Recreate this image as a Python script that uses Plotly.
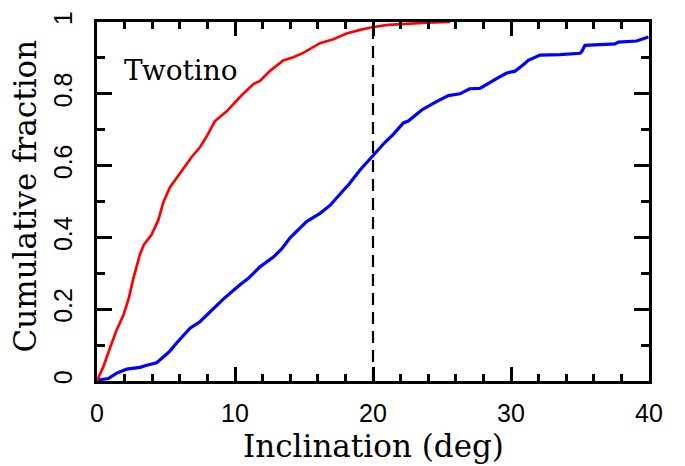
import plotly.graph_objects as go

# Cumulative inclination distributions
red_inc = [0, 0.46, 0.94, 1.4, 1.91, 2.3, 2.63, 3.12, 3.4, 3.96, 4.44, 4.81, 5.29,
           6.01, 6.86, 7.46, 8.0, 8.55, 9.4, 10.36, 11.33, 11.81, 12.54, 13.5,
           14.22, 14.95, 15.56, 16.16, 17.12, 18.09, 19.06, 20.02, 21.1, 21.96,
           23.9, 25.6]
red_frac = [0, 0.04, 0.092, 0.14, 0.183, 0.23, 0.285, 0.354, 0.38, 0.408, 0.448,
            0.498, 0.54, 0.577, 0.624, 0.651, 0.685, 0.724, 0.751, 0.791, 0.827,
            0.836, 0.864, 0.893, 0.902, 0.914, 0.927, 0.941, 0.952, 0.968, 0.978,
            0.986, 0.992, 0.994, 0.998, 1.0]

blue_inc = [0, 0.1, 0.82, 1.43, 2.15, 3.12, 3.6, 4.32, 5.05, 5.29, 5.77, 6.74,
            7.46, 7.95, 8.19, 9.15, 10.36, 10.97, 11.81, 12.78, 13.38, 13.99,
            15.19, 16.16, 16.88, 17.6, 18.3, 19.06, 20.02, 20.87, 21.47, 22.2,
            22.56, 23.53, 24.6, 25.46, 26.3, 27.0, 27.75, 28.24, 29.08, 29.69,
            30.29, 30.89, 31.25, 32.1, 33.55, 35.0, 35.12, 35.36, 36.45, 37.54,
            37.78, 39.1, 39.96]
blue_frac = [0, 0.003, 0.007, 0.022, 0.033, 0.038, 0.044, 0.051, 0.075, 0.084,
             0.106, 0.147, 0.165, 0.183, 0.192, 0.228, 0.268, 0.286, 0.318,
             0.345, 0.368, 0.399, 0.444, 0.467, 0.489, 0.52, 0.55, 0.588, 0.629,
             0.665, 0.687, 0.719, 0.724, 0.755, 0.778, 0.795, 0.80, 0.814, 0.815,
             0.827, 0.845, 0.858, 0.863, 0.881, 0.893, 0.908, 0.909, 0.913, 0.917,
             0.935, 0.937, 0.939, 0.944, 0.947, 0.958]

cut_inc = 20.0
cut_frac = [0, 0.986]

x_ticks = [0, 10, 20, 30, 40]
x_tick_text = ["0", "10", "20", "30", "40"]
y_ticks = [0, 0.2, 0.4, 0.6, 0.8, 1.0]
y_tick_text = ["0", "0.2", "0.4", "0.6", "0.8", "1"]

label_font = "DejaVu Serif"
tick_font = "Liberation Sans"

fig = go.Figure()
fig.add_trace(go.Scatter(x=[cut_inc, cut_inc], y=cut_frac, mode="lines",
                         line=dict(color="black", width=2.2, dash="12px,7px"),
                         showlegend=False))
fig.add_trace(go.Scatter(x=blue_inc, y=blue_frac, mode="lines",
                         line=dict(color="#0000ff", width=3.2),
                         showlegend=False))
fig.add_trace(go.Scatter(x=red_inc, y=red_frac, mode="lines",
                         line=dict(color="#ff0000", width=2.7),
                         showlegend=False))

axis_common = dict(
    showgrid=False, zeroline=False, showline=True, linecolor="black",
    linewidth=2.5, mirror="allticks", ticks="inside", tickcolor="black",
    tickwidth=2.5, tickfont=dict(family=tick_font, size=25, color="black"),
)

fig.update_xaxes(range=[0, 40], tickvals=x_ticks, ticktext=x_tick_text,
                 ticklen=14, ticklabelstandoff=8,
                 minor=dict(dtick=2, ticks="inside", ticklen=7, tickwidth=2.5,
                            tickcolor="black", showgrid=False),
                 **axis_common)
fig.update_yaxes(range=[0, 1], tickvals=y_ticks, ticktext=y_tick_text,
                 ticklen=15, tickangle=-90, ticklabelstandoff=12,
                 minor=dict(dtick=0.1, ticks="inside", ticklen=8, tickwidth=2.5,
                            tickcolor="black", showgrid=False),
                 **axis_common)

fig.add_annotation(text="Inclination (deg)", xref="paper", yref="paper",
                   x=0.5, y=-0.18, xanchor="center", yanchor="middle",
                   showarrow=False, font=dict(family=label_font, size=31, color="black"))
fig.add_annotation(text="Cumulative fraction", xref="paper", yref="paper",
                   x=-0.131, y=0.516, xanchor="center", yanchor="middle", textangle=-90,
                   showarrow=False, font=dict(family=label_font, size=31, color="black"))
fig.add_annotation(text="Twotino", xref="x", yref="y", x=1.8, y=0.865,
                   xanchor="left", yanchor="middle", showarrow=False,
                   font=dict(family=label_font, size=28, color="black"))

fig.update_layout(width=685, height=466, plot_bgcolor="white", paper_bgcolor="white",
                  margin=dict(l=97, r=36, t=11, b=85))

fig.write_html("out.html")
